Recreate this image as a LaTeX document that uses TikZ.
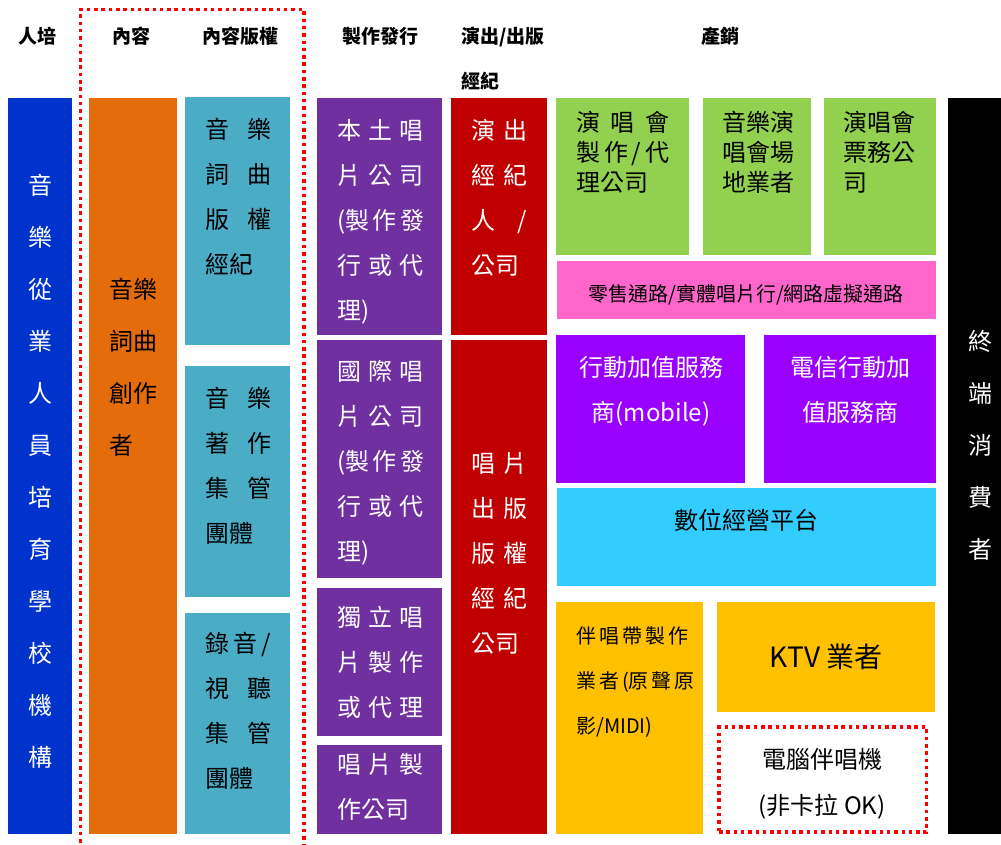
\documentclass[tikz,border=0pt]{standalone}
\usepackage{fontspec}
\setmainfont{Noto Sans CJK TC}
\definecolor{cblue}{HTML}{0033CC}
\definecolor{corange}{HTML}{E46C0A}
\definecolor{cteal}{HTML}{4BACC6}
\definecolor{cpurple}{HTML}{7030A0}
\definecolor{cdred}{HTML}{C00000}
\definecolor{cgreen}{HTML}{92D050}
\definecolor{cpink}{HTML}{FF66CC}
\definecolor{cviolet}{HTML}{9900FF}
\definecolor{ccyan}{HTML}{33CCFF}
\definecolor{cyellow}{HTML}{FFC000}
\definecolor{cdot}{HTML}{FF0000}
\newcommand\myfs[2]{\fontsize{#1}{#2}\selectfont}
\newcommand\jl[2]{\makebox[#1pt][s]{#2}}
\hbadness=10000
\begin{document}
\begin{tikzpicture}[x=1pt,y=-1pt,
  box/.style={anchor=north west,inner sep=0pt,outer sep=0pt,draw=none},
  hdr/.style={anchor=base,inner sep=0pt,font=\myfs{19}{45}\bfseries},
  txt/.style={anchor=base west,inner sep=0pt,align=left,font=\myfs{24}{45}},
  ctxt/.style={anchor=base,inner sep=0pt,align=center,font=\myfs{24}{45}},
  dotline/.style={draw=cdot,line width=3.5pt,dash pattern=on 3.5pt off 3.8pt}]
\useasboundingbox (0,0) rectangle (1001,844);
\clip (0,0) rectangle (1001,844);
% headers
\node[hdr] (h1) at (38,43) {人培};
\node[hdr] (h2) at (131,43) {內容};
\node[hdr] (h3) at (240,43) {內容版權};
\node[hdr] (h4) at (380,43) {製作發行};
\node[hdr,anchor=base west,align=left] (h5) at (461,88) {演出/出版\\經紀};
\node[hdr] (h6) at (720,43) {產銷};
% boxes
\node[box,fill=cblue,minimum width=64pt,minimum height=736pt] (blue) at (8,98) {};
\node[box,fill=corange,minimum width=88pt,minimum height=736pt] (orange) at (89,98) {};
\node[box,fill=cteal,minimum width=105pt,minimum height=248pt] (teal1) at (185,97) {};
\node[box,fill=cteal,minimum width=105pt,minimum height=231pt] (teal2) at (185,366) {};
\node[box,fill=cteal,minimum width=105pt,minimum height=221pt] (teal3) at (185,613) {};
\node[box,fill=cpurple,minimum width=125pt,minimum height=237pt] (pur1) at (317,98) {};
\node[box,fill=cpurple,minimum width=125pt,minimum height=238pt] (pur2) at (317,340) {};
\node[box,fill=cpurple,minimum width=125pt,minimum height=148pt] (pur3) at (317,588) {};
\node[box,fill=cpurple,minimum width=125pt,minimum height=89pt] (pur4) at (317,745) {};
\node[box,fill=cdred,minimum width=96pt,minimum height=237pt] (red1) at (451,98) {};
\node[box,fill=cdred,minimum width=96pt,minimum height=494pt] (red2) at (451,340) {};
\node[box,fill=cgreen,minimum width=133pt,minimum height=157pt] (grn1) at (556,98) {};
\node[box,fill=cgreen,minimum width=108pt,minimum height=157pt] (grn2) at (703,98) {};
\node[box,fill=cgreen,minimum width=112pt,minimum height=157pt] (grn3) at (824,98) {};
\node[box,fill=cpink,minimum width=379pt,minimum height=58pt] (pink) at (557,261) {};
\node[box,fill=cviolet,minimum width=189pt,minimum height=148pt] (vio1) at (556,335) {};
\node[box,fill=cviolet,minimum width=172pt,minimum height=148pt] (vio2) at (764,335) {};
\node[box,fill=ccyan,minimum width=379pt,minimum height=98pt] (cyan) at (557,488) {};
\node[box,fill=cyellow,minimum width=147pt,minimum height=232pt] (yel) at (556,602) {};
\node[box,fill=cyellow,minimum width=218pt,minimum height=110pt] (ktv) at (717,602) {};
\node[box,fill=black,minimum width=53pt,minimum height=736pt] (blk) at (948,98) {};
\node[box,dotline,minimum width=207.5pt,minimum height=105pt] (pc) at (719,727) {};
% dotted frame
\draw[dotline] (80.5,850) -- (80.5,9.5) -- (304,9.5) -- (304,850);
% texts (anchor = baseline of last line)
\node[ctxt,text=white,font=\myfs{24}{52}] (tblue) at (40,766) {音\\樂\\從\\業\\人\\員\\培\\育\\學\\校\\機\\構};
\node[txt,font=\myfs{24}{52}] (torange) at (109,454) {音樂\\詞曲\\創作\\者};
\node[txt] (tteal1) at (205,273) {\jl{66}{音 樂}\\\jl{66}{詞 曲}\\\jl{66}{版 權}\\經紀};
\node[txt] (tteal2) at (205,542) {\jl{66}{音 樂}\\\jl{66}{著 作}\\\jl{66}{集 管}\\團體};
\node[txt] (tteal3) at (205,787) {\jl{66}{錄 音 /}\\\jl{66}{視 聽}\\\jl{66}{集 管}\\團體};
\node[txt,text=white] (tpur1) at (337,319) {\jl{86}{本 土 唱}\\\jl{86}{片 公 司}\\\jl{86}{(製 作 發}\\\jl{86}{行 或 代}\\理)};
\node[txt,text=white] (tpur2) at (337,560) {\jl{86}{國 際 唱}\\\jl{86}{片 公 司}\\\jl{86}{(製 作 發}\\\jl{86}{行 或 代}\\理)};
\node[txt,text=white] (tpur3) at (337,716) {\jl{86}{獨 立 唱}\\\jl{86}{片 製 作}\\\jl{86}{或 代 理}};
\node[txt,text=white] (tpur4) at (337,818) {\jl{86}{唱 片 製}\\作公司};
\node[txt,text=white] (tred1) at (471,274) {\jl{56}{演 出}\\\jl{56}{經 紀}\\\jl{56}{人 /}\\公司};
\node[txt,text=white] (tred2) at (471,652) {\jl{56}{唱 片}\\\jl{56}{出 版}\\\jl{56}{版 權}\\\jl{56}{經 紀}\\公司};
\node[txt,font=\myfs{24}{30}] (tgrn1) at (576,191) {\jl{93}{演 唱 會}\\\jl{93}{製 作 / 代}\\理公司};
\node[txt,font=\myfs{24}{30}] (tgrn2) at (722,191) {音樂演\\唱會場\\地業者};
\node[txt,font=\myfs{24}{30}] (tgrn3) at (843,191) {演唱會\\票務公\\司};
\node[ctxt,font=\myfs{20}{30}] (tpink) at (746,301) {零售通路/實體唱片行/網路虛擬通路};
\node[ctxt,text=white] (tvio1) at (651,421) {行動加值服務\\商(mobile)};
\node[ctxt,text=white] (tvio2) at (850,421) {電信行動加\\值服務商};
\node[ctxt] (tcyan) at (746,529) {數位經營平台};
\node[ctxt,text=white,font=\myfs{24}{52}] (tblk) at (980,558) {終\\端\\消\\費\\者};
\node[txt,font=\myfs{20}{45}] (tyel) at (576,733) {\jl{108}{伴 唱 帶 製 作}\\\jl{108}{業 者 (原 聲 原}\\影/MIDI)};
\node[ctxt,font=\myfs{28}{45}] (tktv) at (826,667) {KTV 業者};
\node[ctxt,font=\myfs{24}{46}] (tpc) at (822,814) {電腦伴唱機\\(非卡拉 OK)};
\end{tikzpicture}
\end{document}
